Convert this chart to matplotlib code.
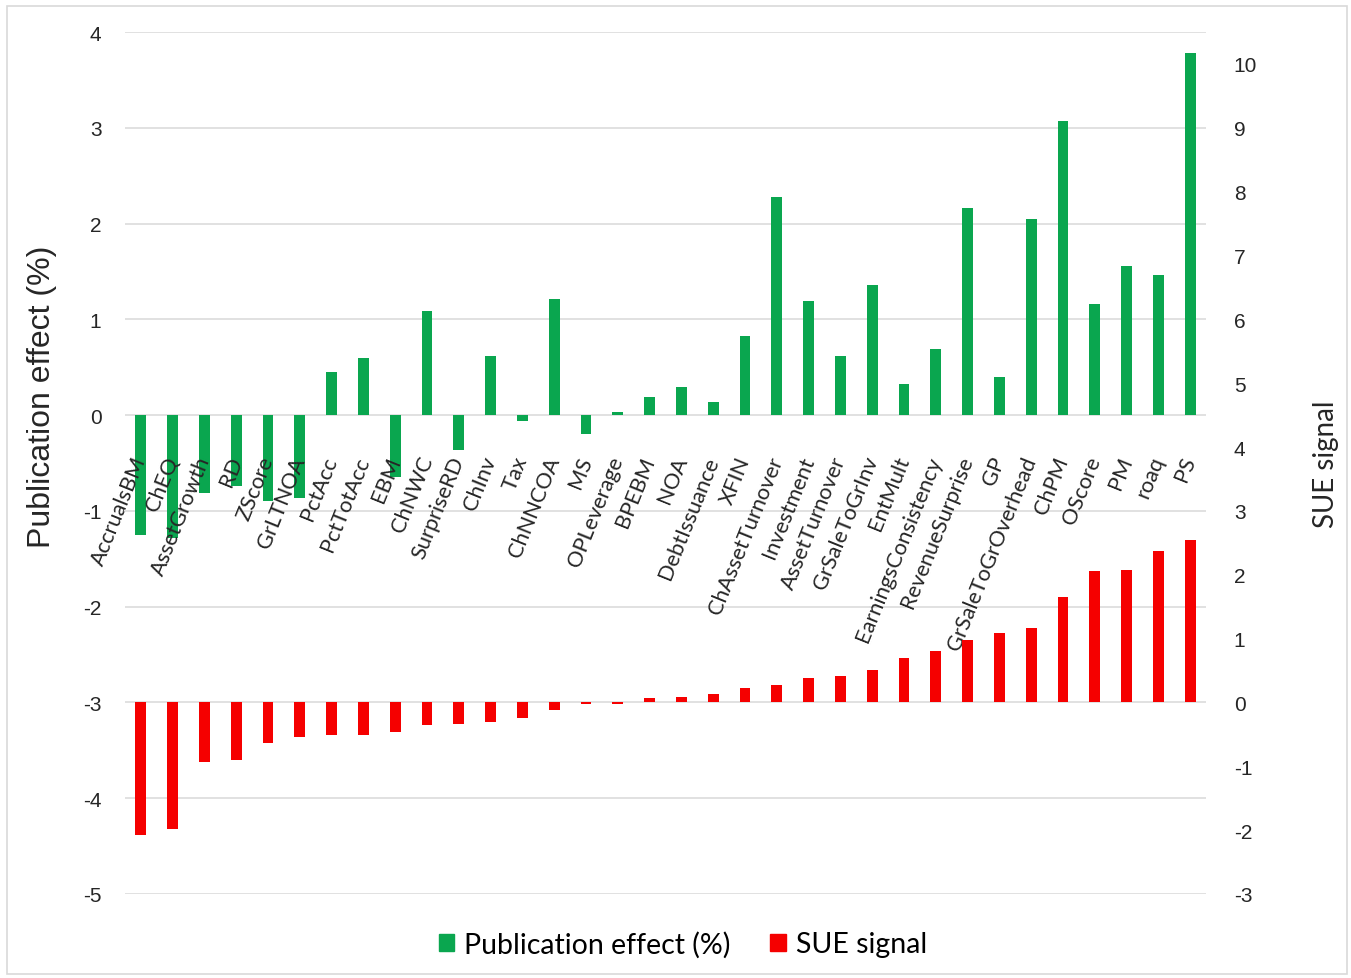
import matplotlib
matplotlib.use("Agg")
import matplotlib.pyplot as plt
import matplotlib.patches as mpatches
import numpy as np

plt.rcParams["axes.unicode_minus"] = False

# signals, sorted by SUE signal
signals = ["AccrualsBM", "ChEQ", "AssetGrowth", "RD", "ZScore", "GrLTNOA", "PctAcc",
           "PctTotAcc", "EBM", "ChNWC", "SurpriseRD", "ChInv", "Tax", "ChNNCOA", "MS",
           "OPLeverage", "BPEBM", "NOA", "DebtIssuance", "XFIN", "ChAssetTurnover",
           "Investment", "AssetTurnover", "GrSaleToGrInv", "EntMult",
           "EarningsConsistency", "RevenueSurprise", "GP", "GrSaleToGrOverhead",
           "ChPM", "OScore", "PM", "roaq", "PS"]

pub_effect = [-1.25, -1.28, -0.81, -0.74, -0.90, -0.87, 0.45, 0.60, -0.65, 1.09,
              -0.36, 0.62, -0.06, 1.21, -0.20, 0.03, 0.19, 0.29, 0.14, 0.83, 2.28,
              1.19, 0.62, 1.36, 0.32, 0.69, 2.16, 0.40, 2.05, 3.07, 1.16, 1.56,
              1.46, 3.78]

sue_signal = [-2.08, -1.98, -0.93, -0.90, -0.64, -0.54, -0.51, -0.51, -0.47, -0.36,
              -0.34, -0.30, -0.25, -0.12, -0.03, -0.03, 0.07, 0.08, 0.14, 0.23, 0.28,
              0.38, 0.41, 0.51, 0.69, 0.80, 0.98, 1.08, 1.16, 1.65, 2.06, 2.08,
              2.37, 2.54]

left_ticks = [-5, -4, -3, -2, -1, 0, 1, 2, 3, 4]
right_ticks = [-3, -2, -1, 0, 1, 2, 3, 4, 5, 6, 7, 8, 9, 10]

GREEN = "#0AA64F"
RED = "#F50000"
GRID = "#D9D9D9"
TXT = "#262626"

fig = plt.figure(figsize=(13.51, 9.79), dpi=100)
ax = fig.add_axes([125 / 1351, 1 - 895 / 979, 1081 / 1351, 862 / 979])
ax2 = ax.twinx()

x = np.arange(len(signals))
w = 0.34

ax.bar(x, pub_effect, width=w, color=GREEN, zorder=2)
ax2.bar(x, sue_signal, width=w, color=RED, zorder=2)

left_lim = (-5, 4)
ax.set_xlim(-0.5, len(signals) - 0.5)
ax.set_ylim(*left_lim)
ax2.set_ylim(-3, 10.5)

ax.set_yticks(left_ticks)
ax2.set_yticks(right_ticks)
ax.yaxis.grid(True, color=GRID, linewidth=1.1, zorder=0)
ax.set_axisbelow(True)

for a in (ax, ax2):
    for s in a.spines.values():
        s.set_visible(False)

ax.tick_params(axis="y", length=0, pad=17, labelsize=15, labelcolor=TXT)
ax2.tick_params(axis="y", length=0, pad=20, labelsize=15, labelcolor=TXT)
for lab in ax.get_yticklabels() + ax2.get_yticklabels():
    lab.set_family("Liberation Sans")

# category labels hang under the left-axis zero line; they live on the twin
# axes so they are drawn over both bar series
zero_frac = (0 - left_lim[0]) / (left_lim[1] - left_lim[0])
ax.tick_params(axis="x", length=0, labelbottom=False)
ax2.xaxis.set_visible(True)
ax2.spines["bottom"].set_position(("axes", zero_frac))
ax2.tick_params(axis="x", length=0, pad=30, top=False, labeltop=False)
ax2.set_xticks(x)
ax2.set_xticklabels(signals, rotation=68, ha="right", va="center",
                    rotation_mode="anchor", fontsize=15.7, family="Lato", color=TXT)

ax.set_ylabel("Publication effect (%)", fontsize=23, family="Liberation Sans",
              color=TXT)
ax.yaxis.set_label_coords(-0.063, 0.578)
ax2.set_ylabel("SUE signal", fontsize=20, family="Lato", color=TXT, labelpad=40)

handles = [mpatches.Patch(color=GREEN, label="Publication effect (%)"),
           mpatches.Patch(color=RED, label="SUE signal")]
fig.legend(handles=handles, loc="center", bbox_to_anchor=(683 / 1351, 1 - 945 / 979),
           ncol=2, frameon=False, prop={"family": "Lato", "size": 20.5},
           handlelength=0.55, handleheight=0.55, handletextpad=0.35, columnspacing=1.4)

# thin frame round the whole chart
fig.patches.append(mpatches.Rectangle((7 / 1351, 4 / 979), 1340 / 1351, 968 / 979,
                                      transform=fig.transFigure, fill=False,
                                      edgecolor=GRID, linewidth=1.2))

fig.savefig("out.png", dpi=100, facecolor="white")
